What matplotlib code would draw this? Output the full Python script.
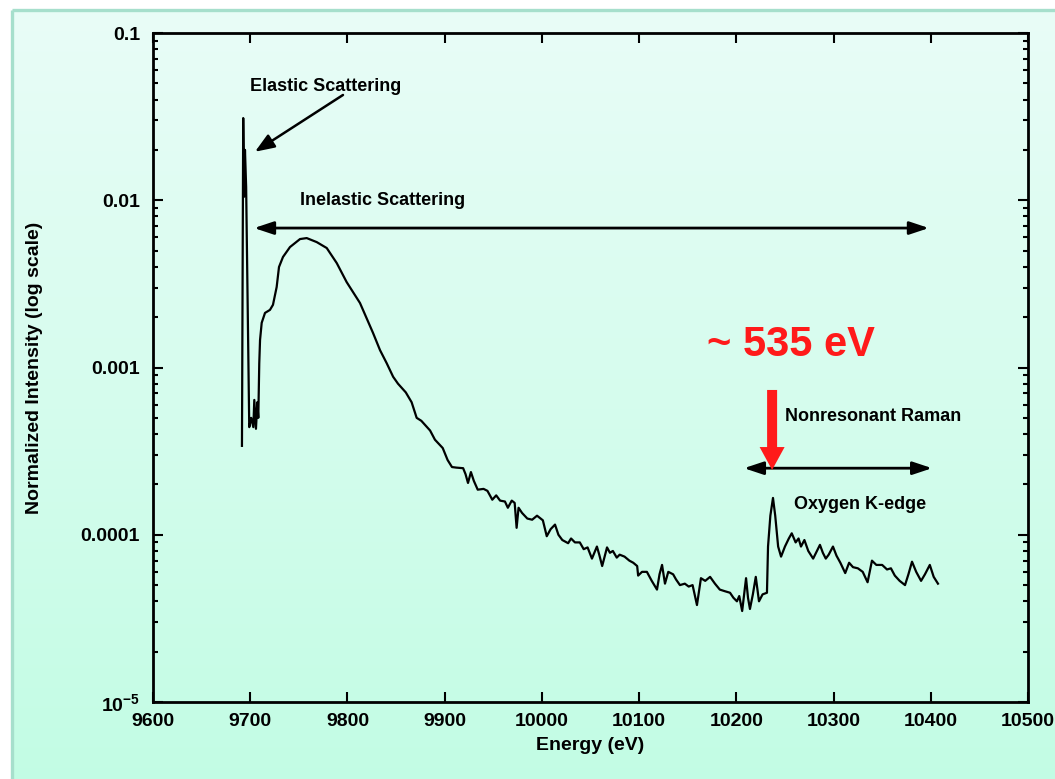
import numpy as np
import matplotlib
matplotlib.use("Agg")
import matplotlib.pyplot as plt
from matplotlib.ticker import FixedLocator, FixedFormatter, LogLocator, NullFormatter

plt.rcParams['font.family'] = ['Liberation Sans', 'DejaVu Sans']
plt.rcParams['mathtext.fontset'] = 'custom'
plt.rcParams['mathtext.rm'] = 'Liberation Sans:bold'
plt.rcParams['mathtext.default'] = 'rm'

# ---------------- data ----------------
energy = [9691.5, 9692.8, 9693.8, 9694.6, 9695.8, 9699.0, 9701.0, 9703.2, 9704.2, 9705.9,
          9707.3, 9708.3, 9709.3, 9710.1, 9711.8, 9715.2, 9720.3, 9723.4, 9727.2, 9729.6,
          9733.7, 9740.9, 9751.2, 9758.1, 9768.4, 9778.7, 9789.0, 9799.2, 9812.9, 9826.3,
          9833.5, 9840.4, 9847.0, 9852.0, 9860.0, 9866.0, 9871.2, 9876.0, 9885.0, 9890.0,
          9898.0, 9903.0, 9907.5, 9912.0, 9919.0, 9921.5, 9924.0, 9927.0, 9930.0, 9934.0,
          9940.0, 9944.0, 9947.0, 9949.0, 9953.0, 9957.0, 9962.0, 9965.0, 9969.0, 9972.0,
          9974.0, 9976.0, 9979.6, 9985.0, 9990.0, 9995.0, 10001.0, 10005.0, 10009.0, 10013.5,
          10017.0, 10021.0, 10027.0, 10030.0, 10034.0, 10039.0, 10043.0, 10047.0, 10051.5, 10056.6,
          10059.0, 10062.0, 10067.0, 10070.0, 10073.0, 10077.0, 10080.0, 10085.0, 10090.0, 10094.0,
          10098.0, 10099.0, 10103.0, 10108.0, 10113.0, 10118.4, 10121.0, 10123.6, 10126.6, 10130.0,
          10135.0, 10138.0, 10142.0, 10147.0, 10151.0, 10155.0, 10159.5, 10163.6, 10168.0, 10173.0,
          10178.0, 10183.0, 10188.0, 10193.5, 10197.0, 10200.6, 10203.0, 10206.0, 10210.0, 10212.0,
          10214.0, 10217.0, 10220.0, 10223.3, 10227.0, 10231.5, 10232.6, 10235.0, 10237.7, 10240.0,
          10243.0, 10246.0, 10250.0, 10254.0, 10257.0, 10261.0, 10264.0, 10266.5, 10270.0, 10274.0,
          10279.0, 10282.0, 10286.0, 10289.0, 10292.0, 10295.0, 10299.4, 10303.0, 10307.0, 10312.0,
          10316.0, 10320.0, 10325.0, 10330.0, 10335.0, 10339.5, 10344.0, 10350.0, 10355.0, 10359.0,
          10363.0, 10368.0, 10373.5, 10377.0, 10380.7, 10385.0, 10390.0, 10394.0, 10399.0, 10403.0,
          10407.4]
intensity = [3.4e-4, 3.1e-2, 1.05e-2, 2.0e-2, 1.2e-2, 4.4e-4, 5.0e-4, 4.4e-4, 6.4e-4, 4.3e-4,
             6.2e-4, 5.0e-4, 1.06e-3, 1.46e-3, 1.85e-3, 2.12e-3, 2.21e-3, 2.37e-3, 3.03e-3, 3.99e-3,
             4.58e-3, 5.25e-3, 5.86e-3, 5.94e-3, 5.62e-3, 5.18e-3, 4.21e-3, 3.24e-3, 2.43e-3, 1.61e-3,
             1.27e-3, 1.06e-3, 8.8e-4, 8.0e-4, 7.1e-4, 6.2e-4, 5.0e-4, 4.8e-4, 4.2e-4, 3.7e-4,
             3.3e-4, 2.8e-4, 2.54e-4, 2.52e-4, 2.5e-4, 2.3e-4, 2.04e-4, 2.37e-4, 2.1e-4, 1.86e-4,
             1.88e-4, 1.83e-4, 1.7e-4, 1.62e-4, 1.72e-4, 1.6e-4, 1.58e-4, 1.45e-4, 1.6e-4, 1.55e-4,
             1.1e-4, 1.45e-4, 1.35e-4, 1.25e-4, 1.23e-4, 1.3e-4, 1.22e-4, 9.8e-5, 1.08e-4, 1.15e-4,
             1.0e-4, 9.3e-5, 8.9e-5, 9.5e-5, 9.0e-5, 9.0e-5, 8.2e-5, 8.4e-5, 7.2e-5, 8.5e-5,
             7.6e-5, 6.5e-5, 8.4e-5, 7.8e-5, 8.0e-5, 7.3e-5, 7.6e-5, 7.4e-5, 7.0e-5, 6.8e-5,
             6.5e-5, 5.7e-5, 6.0e-5, 6.0e-5, 5.3e-5, 4.7e-5, 5.8e-5, 6.6e-5, 5.1e-5, 6.0e-5,
             5.8e-5, 5.4e-5, 5.0e-5, 5.1e-5, 4.9e-5, 5.0e-5, 3.8e-5, 5.5e-5, 5.3e-5, 5.6e-5,
             5.1e-5, 4.7e-5, 4.6e-5, 4.5e-5, 4.2e-5, 4.0e-5, 4.3e-5, 3.5e-5, 5.5e-5, 4.2e-5,
             3.6e-5, 4.4e-5, 5.6e-5, 4.0e-5, 4.4e-5, 4.5e-5, 8.5e-5, 1.3e-4, 1.66e-4, 1.3e-4,
             8.5e-5, 7.4e-5, 8.5e-5, 9.5e-5, 1.02e-4, 9.0e-5, 9.5e-5, 8.5e-5, 9.3e-5, 8.0e-5,
             7.2e-5, 7.8e-5, 8.7e-5, 7.8e-5, 7.2e-5, 7.6e-5, 8.5e-5, 7.5e-5, 6.8e-5, 5.9e-5,
             6.8e-5, 6.4e-5, 6.3e-5, 6.0e-5, 5.2e-5, 7.0e-5, 6.6e-5, 6.6e-5, 6.2e-5, 6.3e-5,
             5.7e-5, 5.3e-5, 5.0e-5, 5.8e-5, 6.9e-5, 6.0e-5, 5.3e-5, 5.8e-5, 6.6e-5, 5.6e-5,
             5.1e-5]

x_ticks = [9600, 9700, 9800, 9900, 10000, 10100, 10200, 10300, 10400, 10500]
x_tick_labels = ['9600', '9700', '9800', '9900', '10000', '10100', '10200', '10300', '10400', '10500']
y_ticks = [1e-5, 1e-4, 1e-3, 1e-2, 1e-1]
y_tick_labels = ['10$^{-5}$', '0.0001', '0.001', '0.01', '0.1']

W, H = 1055, 779
fig = plt.figure(figsize=(W / 100, H / 100), dpi=100, facecolor='white')

# ---------------- background panel with gradient ----------------
bg = fig.add_axes([0, 0, 1, 1], zorder=-10)
bg.axis('off')
top_c = np.array([233, 253, 247]) / 255.0
bot_c = np.array([194, 252, 228]) / 255.0
t = np.linspace(0, 1, 256)[:, None, None]
grad = top_c[None, None, :] * (1 - t) + bot_c[None, None, :] * t
bg.imshow(grad, extent=(12, W + 10, H + 10, 10), aspect='auto', interpolation='bilinear')
bg.plot([12, 12], [10, H + 10], color='#a6dfcc', lw=2.4, solid_capstyle='butt')
bg.plot([12, W + 10], [10, 10], color='#a6dfcc', lw=2.4, solid_capstyle='butt')
bg.set_xlim(0, W)
bg.set_ylim(H, 0)

# ---------------- main axes ----------------
left, right, top, bottom = 153, 1028, 33, 702
ax = fig.add_axes([left / W, (H - bottom) / H, (right - left) / W, (bottom - top) / H])
ax.set_facecolor('none')
ax.set_yscale('log')
ax.set_xlim(9600, 10500)
ax.set_ylim(1e-5, 1e-1)

ax.plot(energy, intensity, color='black', lw=1.6)

for s in ax.spines.values():
    s.set_linewidth(2.0)

ax.xaxis.set_major_locator(FixedLocator(x_ticks))
ax.xaxis.set_major_formatter(FixedFormatter(x_tick_labels))
ax.yaxis.set_major_locator(FixedLocator(y_ticks))
ax.yaxis.set_major_formatter(FixedFormatter(y_tick_labels))
ax.yaxis.set_minor_locator(LogLocator(base=10, subs=np.arange(2, 10)))
ax.yaxis.set_minor_formatter(NullFormatter())

ax.tick_params(which='major', direction='in', top=True, right=True, length=7, width=1.5)
ax.tick_params(which='minor', direction='in', top=True, right=True, length=3.8, width=1.5)
ax.tick_params(axis='y', which='major', pad=9.4, labelsize=14)
ax.tick_params(axis='x', which='major', pad=8, labelsize=14)
for lab in ax.get_xticklabels() + ax.get_yticklabels():
    lab.set_fontweight('bold')

ax.set_xlabel('Energy (eV)', fontsize=14, fontweight='bold')
ax.set_ylabel('Normalized Intensity (log scale)', fontsize=14, fontweight='bold')
ax.xaxis.set_label_coords(0.5, -0.052)
ax.yaxis.set_label_coords(-0.126, 0.5)

# ---------------- annotations ----------------
ax.text(9699.8, 0.0482, 'Elastic Scattering', fontsize=13, fontweight='bold',
        ha='left', va='center')
ax.annotate('', xy=(9704.9, 0.0195), xytext=(9795.4, 0.0426),
            arrowprops=dict(arrowstyle='-|>,head_length=0.9,head_width=0.35', lw=1.8,
                            color='black', shrinkA=0, shrinkB=0, mutation_scale=13))

ax.text(9751.2, 0.01, 'Inelastic Scattering', fontsize=13, fontweight='bold',
        ha='left', va='center')
ax.annotate('', xy=(9704.0, 0.00682), xytext=(10398.0, 0.00682),
            arrowprops=dict(arrowstyle='<|-|>,head_length=0.9,head_width=0.3', lw=2.0,
                            color='black', shrinkA=0, shrinkB=0, mutation_scale=13))

ax.text(10250.0, 5.06e-4, 'Nonresonant Raman', fontsize=13, fontweight='bold',
        ha='left', va='center')
ax.annotate('', xy=(10207.9, 2.5e-4), xytext=(10401.3, 2.5e-4),
            arrowprops=dict(arrowstyle='<|-|>,head_length=0.9,head_width=0.3', lw=2.0,
                            color='black', shrinkA=0, shrinkB=0, mutation_scale=13))
ax.text(10259.3, 1.51e-4, 'Oxygen K-edge', fontsize=13, fontweight='bold',
        ha='left', va='center')

ax.text(10169.8, 1.36e-3, '~ 535 eV', fontsize=30, fontweight='bold', color='#ff1a1a',
        ha='left', va='center')
ax.annotate('', xy=(10236.8, 2.44e-4), xytext=(10236.8, 7.34e-4),
            arrowprops=dict(arrowstyle='simple,head_length=16.5,head_width=18,tail_width=7.2',
                            color='#ff1a1a', lw=0, shrinkA=0, shrinkB=0, mutation_scale=1))

fig.savefig('out.png', dpi=100, facecolor='white')
